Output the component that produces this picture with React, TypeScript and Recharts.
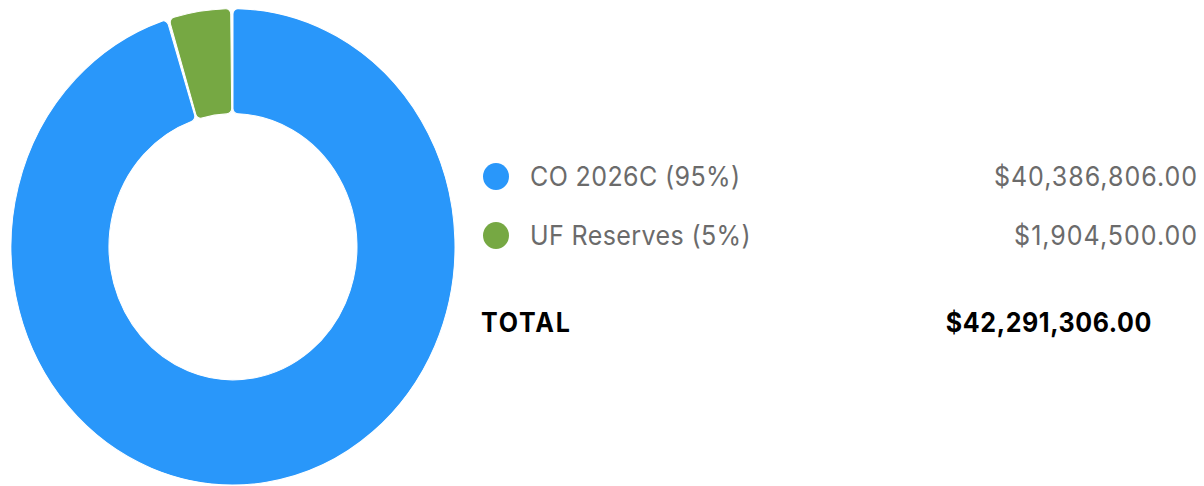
import React from "react";
import { PieChart, Pie, Cell } from "recharts";

const names = ["CO 2026C", "UF Reserves"];
const amounts = [40386806, 1904500];
const colors = ["#2997fa", "#76a843"];

const total = amounts.reduce((a, b) => a + b, 0);
const data = names.map((name, i) => ({ name, value: amounts[i] }));

const money = (v: number) =>
  "$" + v.toLocaleString("en-US", { minimumFractionDigits: 2, maximumFractionDigits: 2 });

const FONT = "Inter, 'Open Sans', sans-serif";

export default function App() {
  return (
    <div
      style={{
        position: "absolute",
        left: 0,
        top: 0,
        width: 1204,
        height: 453,
        background: "#fff",
        transform: "scaleY(1.073)",
        transformOrigin: "top left",
        fontFamily: FONT,
      }}
    >
      <div style={{ position: "absolute", left: 0, top: 0 }}>
        <PieChart width={466} height={460} margin={{ top: 0, right: 0, bottom: 0, left: 0 }}>
          <Pie
            data={data}
            dataKey="value"
            cx={233}
            cy={230}
            innerRadius={124}
            outerRadius={222}
            startAngle={90}
            endAngle={-270}
            paddingAngle={0.6}
            cornerRadius={5}
            stroke="#fff"
            strokeWidth={1}
            isAnimationActive={false}
          >
            {data.map((d, i) => (
              <Cell key={d.name} fill={colors[i]} />
            ))}
          </Pie>
        </PieChart>
      </div>

      {data.map((d, i) => (
        <div
          key={d.name}
          style={{
            position: "absolute",
            left: 483,
            top: 164 + i * 55 - 16,
            width: 714,
            height: 32,
            display: "flex",
            alignItems: "center",
            color: "#6b6b6b",
            fontSize: 25,
          }}
        >
          <span
            style={{
              width: 26,
              height: 25,
              borderRadius: "50%",
              background: colors[i],
              marginRight: 21,
              flex: "none",
            }}
          />
          <span style={{ letterSpacing: 0.4 }}>
            {d.name} ({Math.round((d.value / total) * 100)}%)
          </span>
          <span style={{ marginLeft: "auto", letterSpacing: 1.0, marginRight: -1 }}>{money(d.value)}</span>
        </div>
      ))}

      <div
        style={{
          position: "absolute",
          left: 481,
          top: 300 - 16,
          width: 671,
          height: 32,
          display: "flex",
          alignItems: "center",
          color: "#000",
          fontSize: 25,
          fontWeight: 700,
        }}
      >
        <span style={{ letterSpacing: 1.8 }}>TOTAL</span>
        <span style={{ marginLeft: "auto", letterSpacing: 0.6 }}>{money(total)}</span>
      </div>
    </div>
  );
}
